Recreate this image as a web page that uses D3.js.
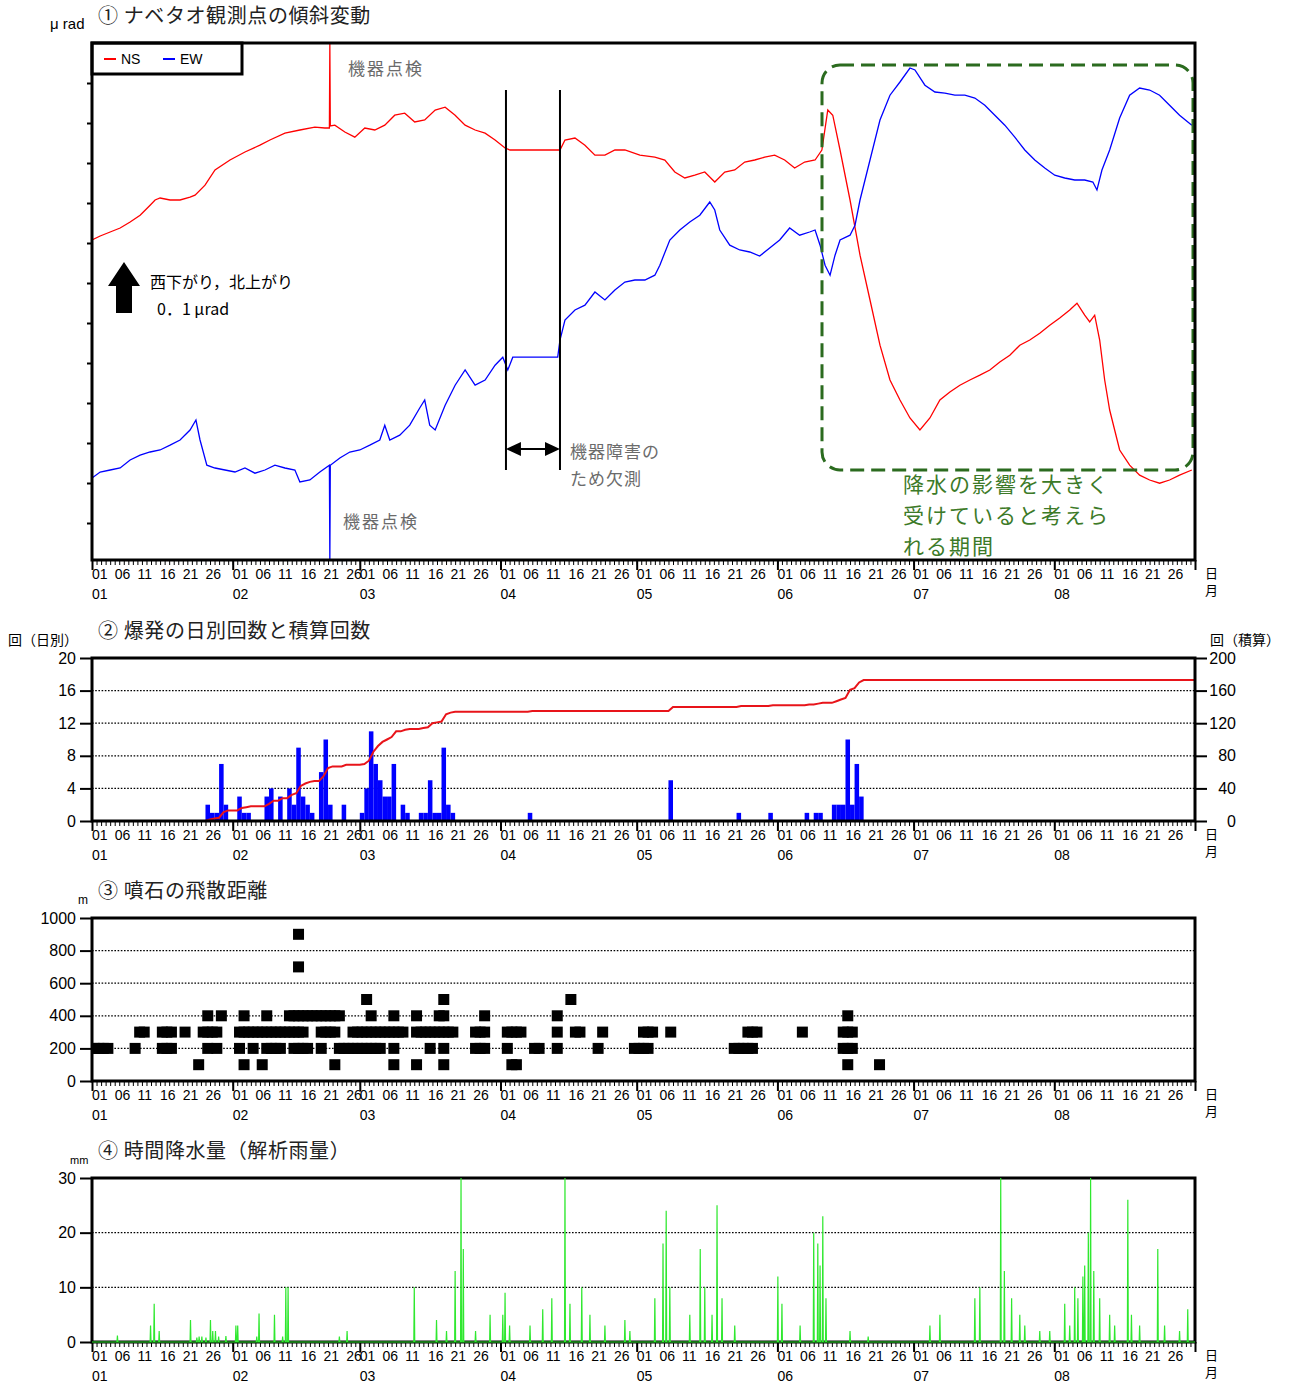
<!DOCTYPE html>
<html>
<head>
<meta charset="utf-8">
<script src="https://cdn.jsdelivr.net/npm/d3@7"></script>
<style>
body{margin:0;background:#fff;}
text{font-family:"Liberation Sans Narrow","Liberation Sans",Arial,sans-serif;}
.jp{font-family:"Noto Sans CJK JP",sans-serif;}
</style>
</head>
<body>
<script>
// ---- data (day = days since 1 Jan) ----
var monthLabels = ["01","02","03","04","05","06","07","08"];
var dayLabels = [1,6,11,16,21,26];

// tilt, arbitrary units (40 px per tick step = 10 units)
var tiltNS = [[0,80],[1.8,81],[4,82],[6.2,83],[8.4,84.5],[10.6,86.2],[12.8,88.7],[13.9,90],[15,90.5],[17.2,90],[19.4,90],[21.6,90.7],[22.7,91.2],[24.9,93.7],[27.1,97.5],[30.4,100],[33.7,102],[37,103.7],[39.2,105],[42.5,106.7],[45.8,107.5],[49.1,108.2],[51.3,108],[52.3,108],[52.4,129],[52.5,108.5],[53.5,108.7],[55.7,107],[57.9,105.7],[60.1,108],[62.3,107.5],[64.5,108.7],[66.7,111.2],[68.9,111.7],[71.1,109.5],[73.3,110],[75.6,112.5],[77.8,113.2],[80,111.2],[82.2,108.7],[84.4,107.5],[86.6,106.7],[88.8,105],[91,103],[92.1,102.5],[103.1,102.5],[104.2,105],[106.4,105.5],[108.6,103.7],[110.8,101.2],[113,101.2],[115.2,102.5],[117.4,102.5],[120.7,101.2],[124,100.7],[126.2,100],[128.4,97],[130.6,95.5],[132.8,96.2],[135,97],[137.2,94.5],[139.4,97],[141.6,97.5],[143.8,99.5],[146,100],[148.2,100.7],[150.4,101.2],[152.6,100],[154.8,98],[157,99.5],[159.3,100],[160.8,102.5],[162.1,112.5],[163.2,111.2],[164.8,102.5],[167,90],[169.2,76.2],[171.4,65],[173.6,53.7],[175.8,45],[178,40],[180.2,35.5],[182.4,32.5],[184.6,35.5],[186.8,40],[189,42],[191.2,43.7],[193.4,45],[195.6,46.2],[197.8,47.5],[200,49.5],[202.2,51.2],[204.4,53.7],[206.6,55],[208.8,56.7],[211,58.7],[213.2,60.5],[215.4,62.5],[217,64.2],[218.7,61.2],[219.8,59.5],[220.9,61.2],[222,55],[223.1,45],[224.2,37.5],[225.3,32.5],[226.4,27.5],[228.6,23.7],[230.8,21.2],[233,20],[235.2,19.2],[237.4,20],[239.6,21.2],[242.3,22.5]];

var tiltEW = [[0,20.5],[1.8,22],[4,22.5],[6.2,23],[8.4,25],[10.6,26.2],[12.8,27],[15,27.5],[17.2,28.7],[19.4,30],[21.6,32.5],[22.9,35],[23.8,30],[25.3,23.7],[27.1,23],[29.3,22.5],[31.5,22],[33.7,23],[35.9,21.7],[38.1,22.5],[40.3,23.7],[42.5,23],[44.7,22.5],[45.8,19.5],[48,20],[50.2,22],[52.3,23.7],[52.4,0],[52.5,23.7],[54.6,25.5],[56.8,27],[59,27.5],[61.2,28.7],[63.4,30],[64.5,33.7],[65.6,30],[67.8,31.2],[70,33.7],[72.2,38],[73.3,40],[74.4,33.7],[75.6,32.5],[77.8,38.7],[80,43.7],[82.2,47.5],[84.4,43.7],[86.6,45],[88.8,48.7],[90.5,50.7],[91.6,47.5],[92.7,50.7],[102.6,50.7],[103.1,55],[104.2,60],[106.4,62.5],[108.6,63.7],[110.8,67],[113,65],[115.2,67.5],[117.4,69.5],[119.6,70],[121.8,70],[124,71.2],[125.1,73.7],[127.3,80],[129.5,82.5],[131.7,84.5],[133.9,86.2],[136.1,89.5],[137.2,87.5],[138.3,82.5],[140.5,78.7],[142.7,77.5],[144.9,77],[147.1,76],[149.3,78],[151.5,80],[153.7,83],[155.9,81.2],[158.1,82],[159.3,82.5],[160.4,78.7],[161.5,73.7],[162.6,71.2],[163.7,76.2],[164.8,80],[167,81.2],[168.1,83.7],[169.2,90],[171.4,100],[173.6,110],[175.8,116.2],[178,119.5],[180.2,123],[181.3,122.5],[183.5,118.7],[185.7,117],[187.9,116.7],[190.1,116.2],[192.3,116.2],[194.5,115.5],[196.7,113.7],[198.9,111.2],[201.1,108.7],[203.3,105.7],[205.5,102.5],[207.7,100],[209.9,98],[212.1,96.2],[214.3,95.5],[216.5,95],[218.7,95],[220.5,94.5],[221.4,92.5],[222.5,97.5],[224.2,102.5],[226.4,110.5],[228.6,116.2],[230.8,118],[233,117.5],[235.2,116.2],[237.4,113.7],[239.6,111.2],[242.3,108.7]];

// daily explosions
var explDay   = [25,26,27,28,29,32,33,34,38,39,41,43,44,45,46,47,48,50,51,52,55,59,60,61,62,63,64,65,66,68,69,72,73,74,75,76,77,78,79,96,127,142,149,157,159,160,163,164,165,166,167,168,169];
var explCount = [2,1,1,7,2,3,1,1,3,4,3,4,2,9,3,2,1,6,10,2,2,1,4,11,7,5,3,3,7,2,1,1,1,5,1,1,9,2,1,1,5,1,1,1,1,1,2,2,2,10,2,7,3];

// ballistic rock distance (m), days per distance
var rock100 = [23,33,37,53,66,71,77,92,93,166,173];
var rock200 = [0,1,2,3,9,15,16,17,25,27,32,35,38,39,40,41,44,45,46,47,50,54,55,56,57,58,59,60,61,62,63,66,74,77,84,85,86,91,97,98,102,111,119,120,121,122,141,142,143,144,145,165,166,167];
var rock300 = [10,11,15,16,17,20,24,25,26,27,32,33,34,35,36,37,38,39,40,41,42,43,44,45,46,50,51,52,53,57,58,59,60,61,62,63,64,65,66,67,68,71,72,73,74,75,76,77,78,79,84,85,86,91,92,93,94,102,106,107,112,121,122,123,127,144,145,146,156,165,166,167];
var rock400 = [25,28,33,38,43,44,45,46,47,48,49,50,51,52,53,54,61,66,71,76,77,86,102,166];
var rock500 = [60,77,105];
var rock700 = [45];
var rock900 = [45];

// hourly rainfall peaks (mm)
var rainDay = [5.6,12.9,13.7,14.8,21.7,23.1,23.6,24.2,25.1,26.1,26.6,27.2,27.9,29.5,31.7,32.1,36.3,36.8,40.2,42,42.7,43.2,54.5,56.2,71,75.9,78.1,80,81.3,81.8,84.5,87.7,90.5,91,92,96.5,99.3,101.3,104.2,105.3,107.9,109.7,113,117.4,118.5,124,125.8,126.5,127.3,131.7,134,135,136.6,137.7,138.8,141.6,151.1,152,156,159,159.9,160.4,161,161.7,167,171,184.6,186.8,194.5,195.6,200.2,201,202.6,204.4,205.5,208.8,211,214.3,215.4,216.5,217.2,218.3,218.7,219.5,220,220.7,222,224.2,225.3,228.2,229,230.8,234.8,236.3,239.6,241.4];
var rainMm  = [1.2,3,7,2,4,0.8,1,1,0.8,4,2,2,1,1.1,3,3,1,5.2,5,1,10,10,1,2,10,4,2,13,30,17,2,5,5,9,3,3,6,8,30,7,10,5,3,4,2,8,18,24,10,5,17,10,5,25,8,3,12,7,3,20,18,14,23,8,2,1,3,5,8,10,30,13,8,5,3,2,2,7,3,10,8,12,14,20,30,13,8,5,3,26,5,3,17,3,2,6];

// ---- layout ----
var L = 92, R = 1195;
var t0 = Date.UTC(2023,0,1), t1 = Date.UTC(2023,8,1);
var svg = d3.select("body").append("svg").attr("width",1292).attr("height",1383);
var x = d3.scaleUtc().domain([new Date(t0), new Date(t1)]).range([L,R]);
function xd(d){ return x(new Date(t0 + d*864e5)); }

var allDays = d3.utcDay.range(new Date(t0), new Date(t1));
var monthStarts = d3.utcMonth.range(new Date(t0), new Date(t1 + 1));

//draws the date axis under a panel
function dateAxis(bottom){
    var g = svg.append("g");
    g.append("g").attr("transform","translate(0,"+bottom+")")
	.call(d3.axisBottom(x).tickValues(allDays).tickSize(5).tickFormat(""))
	.call(function(a){ a.select(".domain").remove(); });
    g.append("g").attr("transform","translate(0,"+bottom+")")
	.call(d3.axisBottom(x).tickValues(monthStarts).tickSize(10).tickFormat(""))
	.call(function(a){ a.select(".domain").remove(); a.selectAll("line").attr("stroke-width",2); });
    monthLabels.forEach(function(m,i){
	dayLabels.forEach(function(dd){
	    g.append("text").attr("x", x(new Date(Date.UTC(2023,i,dd)))).attr("y", bottom+19)
		.attr("font-size",14).text(dd<10 ? "0"+dd : ""+dd);
	});
	g.append("text").attr("x", x(new Date(Date.UTC(2023,i,1)))).attr("y", bottom+39)
	    .attr("font-size",14).text(m);
    });
    g.append("text").attr("class","jp").attr("x",1205).attr("y",bottom+18).attr("font-size",13).text("日");
    g.append("text").attr("class","jp").attr("x",1205).attr("y",bottom+35).attr("font-size",13).text("月");
}

function border(top,bottom){
    svg.append("rect").attr("x",L).attr("y",top).attr("width",R-L).attr("height",bottom-top)
	.attr("fill","none").attr("stroke","#000").attr("stroke-width",3);
}

function clip(id,top,bottom){
    svg.append("clipPath").attr("id",id).append("rect")
	.attr("x",L).attr("y",top).attr("width",R-L).attr("height",bottom-top);
}

function title(xx,yy,txt){
    svg.append("text").attr("class","jp").attr("x",xx).attr("y",yy).attr("font-size",20)
	.attr("letter-spacing",0.6).attr("fill","#222").text(txt);
}

function grid(scale,vals){
    svg.append("g").selectAll("line").data(vals).enter().append("line")
	.attr("x1",L).attr("x2",R).attr("y1",scale).attr("y2",scale)
	.attr("stroke","#000").attr("stroke-width",1.3).attr("stroke-dasharray","1.6,1.6");
}

function leftAxis(scale,vals){
    svg.append("g").attr("transform","translate("+L+",0)")
	.call(d3.axisLeft(scale).tickValues(vals).tickSize(12).tickPadding(4).tickFormat(d3.format("d")))
	.call(function(a){ a.select(".domain").remove(); a.selectAll("line").attr("stroke-width",2);
			   a.selectAll("text").attr("font-size",16).attr("font-family",null); });
}

// ================= panel 1 : tilt =================
var p1T = 43, p1B = 560;
var yTilt = d3.scaleLinear().domain([0,129.25]).range([p1B,p1T]);
title(98,23,"① ナベタオ観測点の傾斜変動");
svg.append("text").attr("x",50).attr("y",29).attr("font-size",15).text("μ rad");
clip("c1",p1T,p1B);
svg.append("g").attr("transform","translate("+L+",0)")
    .call(d3.axisLeft(yTilt).tickValues(d3.range(9.25,125,10)).tickSize(5).tickFormat(""))
    .call(function(a){ a.select(".domain").remove(); a.selectAll("line").attr("stroke-width",2); });
dateAxis(p1B);

var tiltLine = d3.line().x(function(d){return xd(d[0]);}).y(function(d){return yTilt(d[1]);});
svg.append("path").datum(tiltNS).attr("clip-path","url(#c1)").attr("d",tiltLine)
    .attr("fill","none").attr("stroke","#ff0000").attr("stroke-width",1.3);
svg.append("path").datum(tiltEW).attr("clip-path","url(#c1)").attr("d",tiltLine)
    .attr("fill","none").attr("stroke","#0000ff").attr("stroke-width",1.3);

// legend
svg.append("rect").attr("x",L).attr("y",p1T).attr("width",150).attr("height",31)
    .attr("fill","#fff").attr("stroke","#000").attr("stroke-width",3);
svg.append("line").attr("x1",104).attr("x2",116).attr("y1",59).attr("y2",59).attr("stroke","#ff0000").attr("stroke-width",2);
svg.append("text").attr("x",121).attr("y",64).attr("font-size",14).text("NS");
svg.append("line").attr("x1",163).attr("x2",175).attr("y1",59).attr("y2",59).attr("stroke","#0000ff").attr("stroke-width",2);
svg.append("text").attr("x",180).attr("y",64).attr("font-size",14).text("EW");

// annotations
var gray = "#6b6b6b";
svg.append("text").attr("class","jp").attr("x",348).attr("y",75).attr("font-size",17).attr("letter-spacing",2).attr("fill",gray).text("機器点検");
svg.append("text").attr("class","jp").attr("x",343).attr("y",528).attr("font-size",17).attr("letter-spacing",2).attr("fill",gray).text("機器点検");
var gapA = xd(91.2), gapB = xd(103.1);
[gapA,gapB].forEach(function(gx){
    svg.append("line").attr("x1",gx).attr("x2",gx).attr("y1",90).attr("y2",470).attr("stroke","#000").attr("stroke-width",2);
});
svg.append("line").attr("x1",gapA+10).attr("x2",gapB-10).attr("y1",449).attr("y2",449).attr("stroke","#000").attr("stroke-width",2);
svg.append("path").attr("d","M"+gapA+",449L"+(gapA+15)+",442L"+(gapA+15)+",456Z").attr("fill","#000");
svg.append("path").attr("d","M"+gapB+",449L"+(gapB-15)+",442L"+(gapB-15)+",456Z").attr("fill","#000");
svg.append("text").attr("class","jp").attr("x",570).attr("y",458).attr("font-size",17).attr("letter-spacing",1).attr("fill",gray).text("機器障害の");
svg.append("text").attr("class","jp").attr("x",570).attr("y",485).attr("font-size",17).attr("letter-spacing",1).attr("fill",gray).text("ため欠測");

svg.append("path").attr("d","M108,286L124,262L140,286L132,286L132,313L116,313L116,286Z").attr("fill","#000");
svg.append("text").attr("class","jp").attr("x",150).attr("y",288).attr("font-size",16).text("西下がり，北上がり");
svg.append("text").attr("class","jp").attr("x",157).attr("y",315).attr("font-size",16).text("0．1 μrad");

svg.append("rect").attr("x",822).attr("y",65).attr("width",371).attr("height",405).attr("rx",18)
    .attr("fill","none").attr("stroke","#2b6b1f").attr("stroke-width",3).attr("stroke-dasharray","14,7");
var green = "#3c7a28";
["降水の影響を大きく","受けていると考えら","れる期間"].forEach(function(s,i){
    svg.append("text").attr("class","jp").attr("x",903).attr("y",492+i*31).attr("font-size",21)
	.attr("letter-spacing",2).attr("fill",green).text(s);
});
border(p1T,p1B);

// ================= panel 2 : explosions =================
var p2T = 658, p2B = 821;
var yCount = d3.scaleLinear().domain([0,20]).range([p2B,p2T]);
var yCum = d3.scaleLinear().domain([0,200]).range([p2B,p2T]);
title(98,638,"② 爆発の日別回数と積算回数");
svg.append("text").attr("class","jp").attr("x",8).attr("y",645).attr("font-size",14).text("回（日別）");
svg.append("text").attr("class","jp").attr("x",1210).attr("y",645).attr("font-size",14).text("回（積算）");
grid(yCount,[4,8,12,16]);
leftAxis(yCount,[0,4,8,12,16,20]);
svg.append("g").attr("transform","translate("+R+",0)")
    .call(d3.axisRight(yCum).tickValues([0,40,80,120,160,200]).tickSize(12))
    .call(function(a){ a.select(".domain").remove(); a.selectAll("line").attr("stroke-width",2);
		       a.selectAll("text").attr("font-size",16).attr("font-family",null)
		       .attr("text-anchor","end").attr("x",41); });
dateAxis(p2B);

svg.append("g").selectAll("rect").data(explDay).enter().append("rect")
    .attr("x",function(d){return xd(d);}).attr("width",function(d){return xd(d+1)-xd(d);})
    .attr("y",function(d,i){return yCount(explCount[i]);})
    .attr("height",function(d,i){return p2B-yCount(explCount[i]);})
    .attr("fill","#0000ff");

var countByDay = new Map(explDay.map(function(d,i){return [d,explCount[i]];}));
var cum = [[0,0]], total = 0;
for (var d=0; d<243; d++){
    var c = countByDay.get(d) || 0;
    if (c){ cum.push([d,total]); total += c; cum.push([d+1,total]); }
}
cum.push([243,total]);
svg.append("path").datum(cum)
    .attr("d",d3.line().x(function(p){return xd(p[0]);}).y(function(p){return yCum(p[1]);}))
    .attr("fill","none").attr("stroke","#e8141a").attr("stroke-width",2);
border(p2T,p2B);

// ================= panel 3 : ballistic rocks =================
var p3T = 918, p3B = 1081;
var yRock = d3.scaleLinear().domain([0,1000]).range([p3B,p3T]);
title(98,898,"③ 噴石の飛散距離");
svg.append("text").attr("x",78).attr("y",904).attr("font-size",12).text("m");
clip("c3",p3T,p3B);
grid(yRock,[200,400,600,800]);
leftAxis(yRock,[0,200,400,600,800,1000]);
dateAxis(p3B);
var rocks = [];
[[100,rock100],[200,rock200],[300,rock300],[400,rock400],[500,rock500],[700,rock700],[900,rock900]]
    .forEach(function(r){ r[1].forEach(function(dd){ rocks.push([dd,r[0]]); }); });
svg.append("g").attr("clip-path","url(#c3)").selectAll("rect").data(rocks).enter().append("rect")
    .attr("x",function(p){return xd(p[0]+0.5)-5.5;}).attr("y",function(p){return yRock(p[1])-5.5;})
    .attr("width",11).attr("height",11).attr("fill","#000");
border(p3T,p3B);

// ================= panel 4 : rainfall =================
var p4T = 1178, p4B = 1342;
var yRain = d3.scaleLinear().domain([0,30]).range([p4B,p4T]);
title(98,1158,"④ 時間降水量（解析雨量）");
svg.append("text").attr("x",70).attr("y",1164).attr("font-size",11).text("mm");
grid(yRain,[10,20]);
leftAxis(yRain,[0,10,20,30]);
dateAxis(p4B);
border(p4T,p4B);
var rainPts = [[0,0]];
rainDay.forEach(function(dd,i){ rainPts.push([dd-0.1,0],[dd,rainMm[i]],[dd+0.1,0]); });
rainPts.push([243,0]);
rainPts.sort(function(a,b){return a[0]-b[0];});
svg.append("path").datum(rainPts)
    .attr("d",d3.line().x(function(p){return xd(p[0]);}).y(function(p){return yRain(p[1]);}))
    .attr("fill","none").attr("stroke","#2fe82f").attr("stroke-width",1.2);
</script>
</body>
</html>
